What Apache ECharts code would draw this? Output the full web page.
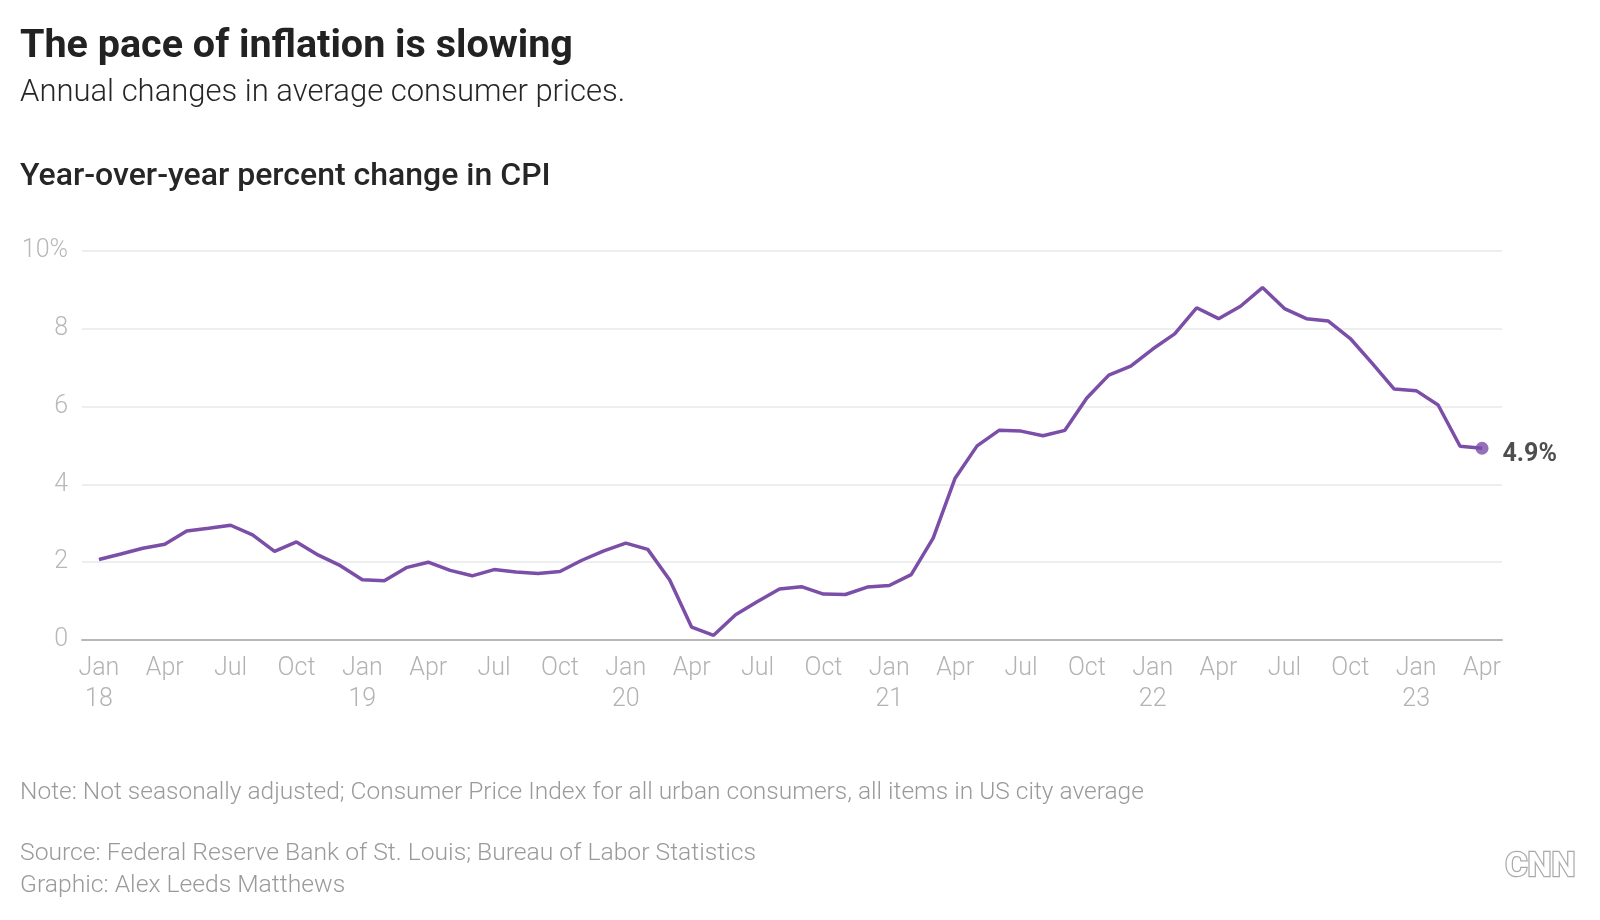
<!DOCTYPE html>
<html>
<head>
<meta charset="utf-8">
<script src="https://cdn.jsdelivr.net/npm/echarts@6/dist/echarts.min.js"></script>
<style>
  html, body { margin: 0; padding: 0; background: #fff; }
  #chart { width: 1600px; height: 920px; }
</style>
</head>
<body>
<div id="chart"></div>
<script>
// ---- Data (Year-over-year % change in CPI, monthly Jan 2018 – Apr 2023) ----
const values2018 = [2.07, 2.21, 2.36, 2.46, 2.80, 2.87, 2.95, 2.70, 2.28, 2.52, 2.18, 1.91];
const values2019 = [1.55, 1.52, 1.86, 2.00, 1.79, 1.65, 1.81, 1.75, 1.71, 1.76, 2.05, 2.29];
const values2020 = [2.49, 2.33, 1.54, 0.33, 0.12, 0.65, 0.99, 1.31, 1.37, 1.18, 1.17, 1.36];
const values2021 = [1.40, 1.68, 2.62, 4.16, 4.99, 5.39, 5.37, 5.25, 5.39, 6.22, 6.81, 7.04];
const values2022 = [7.48, 7.87, 8.54, 8.26, 8.58, 9.06, 8.52, 8.26, 8.20, 7.75, 7.11, 6.45];
const values2023 = [6.41, 6.04, 4.98, 4.93];
const cpiValues = [].concat(values2018, values2019, values2020, values2021, values2022, values2023);

// x tick positions (month index from Jan 2018) and their labels
const tickMonthIndex = [0, 3, 6, 9, 12, 15, 18, 21, 24, 27, 30, 33, 36, 39, 42, 45, 48, 51, 54, 57, 60, 63];
const tickLabels = ['Jan\n18', 'Apr', 'Jul', 'Oct', 'Jan\n19', 'Apr', 'Jul', 'Oct', 'Jan\n20', 'Apr', 'Jul', 'Oct',
                    'Jan\n21', 'Apr', 'Jul', 'Oct', 'Jan\n22', 'Apr', 'Jul', 'Oct', 'Jan\n23', 'Apr'];

const titleText = 'The pace of inflation is slowing';
const subtitleText = 'Annual changes in average consumer prices.';
const axisTitleText = 'Year-over-year percent change in CPI';
const noteText = 'Note: Not seasonally adjusted; Consumer Price Index for all urban consumers, all items in US city average';
const sourceText = 'Source: Federal Reserve Bank of St. Louis; Bureau of Labor Statistics';
const creditText = 'Graphic: Alex Leeds Matthews';

const lineColor = '#7b4ea8';
const FONT = 'Roboto, "Liberation Sans", "DejaVu Sans", sans-serif';

const chart = echarts.init(document.getElementById('chart'), null, { renderer: 'canvas' });

const lastIdx = cpiValues.length - 1;

const option = {
  animation: false,
  backgroundColor: '#ffffff',
  grid: { left: 82, right: 98, top: 251, bottom: 280, containLabel: false },
  xAxis: {
    type: 'value',
    min: -0.77,
    max: 63.91,
    splitLine: { show: false },
    axisTick: { show: false },
    axisLine: { show: true, onZero: false, lineStyle: { color: '#b8b8b8', width: 2 } },
    axisLabel: {
      customValues: tickMonthIndex,
      formatter: function (v) {
        const k = tickMonthIndex.indexOf(Math.round(v));
        return k >= 0 ? tickLabels[k] : '';
      },
      color: '#b3b3b3',
      fontFamily: FONT,
      fontSize: 25,
      fontWeight: 300,
      lineHeight: 31,
      margin: 13,
      showMinLabel: true,
      showMaxLabel: true
    }
  },
  yAxis: {
    type: 'value',
    min: 0,
    max: 10,
    interval: 2,
    axisLine: { show: false },
    axisTick: { show: false },
    splitLine: { show: true, lineStyle: { color: '#e8e8e8', width: 1.5 } },
    axisLabel: {
      formatter: function (v) { return v === 10 ? '10%' : String(v); },
      color: '#b8b8b8',
      fontFamily: FONT,
      fontSize: 25,
      fontWeight: 300,
      margin: 14
    }
  },
  series: [
    {
      type: 'line',
      data: cpiValues.map((v, i) => [i, v]),
      showSymbol: false,
      symbol: 'none',
      lineStyle: { color: lineColor, width: 3.5 },
      z: 3
    },
    {
      type: 'scatter',
      data: [[lastIdx, cpiValues[lastIdx]]],
      symbol: 'circle',
      symbolSize: 13,
      itemStyle: { color: lineColor },
      label: {
        show: true,
        position: 'right',
        distance: 14,
        offset: [0, 7],
        formatter: function (p) { return p.value[1].toFixed(1) + '%'; },
        color: '#222222',
        fontFamily: FONT,
        fontSize: 25,
        fontWeight: 'bold'
      },
      z: 4
    }
  ],
  graphic: [
    { type: 'text', left: 20, top: 27, style: { text: titleText, font: 'bold 39.5px ' + FONT, fill: '#222222' } },
    { type: 'text', left: 20, top: 78, style: { text: subtitleText, font: '300 31px ' + FONT, fill: '#262626' } },
    { type: 'text', left: 20, top: 161, style: { text: axisTitleText, font: '500 32px ' + FONT, fill: '#262626' } },
    { type: 'text', left: 20, top: 780, style: { text: noteText, font: '300 24.5px ' + FONT, fill: '#9a9a9a' } },
    { type: 'text', left: 20, top: 841, style: { text: sourceText, font: '300 24.7px ' + FONT, fill: '#9a9a9a' } },
    { type: 'text', left: 20, top: 873, style: { text: creditText, font: '300 24.7px ' + FONT, fill: '#9a9a9a' } },
    { type: 'text', left: 1504, top: 849, style: { text: 'CNN', font: 'bold 34px ' + FONT, fill: '#ffffff', stroke: '#aaaaaa', lineWidth: 2.5 } }
  ]
};

chart.setOption(option);
</script>
</body>
</html>
